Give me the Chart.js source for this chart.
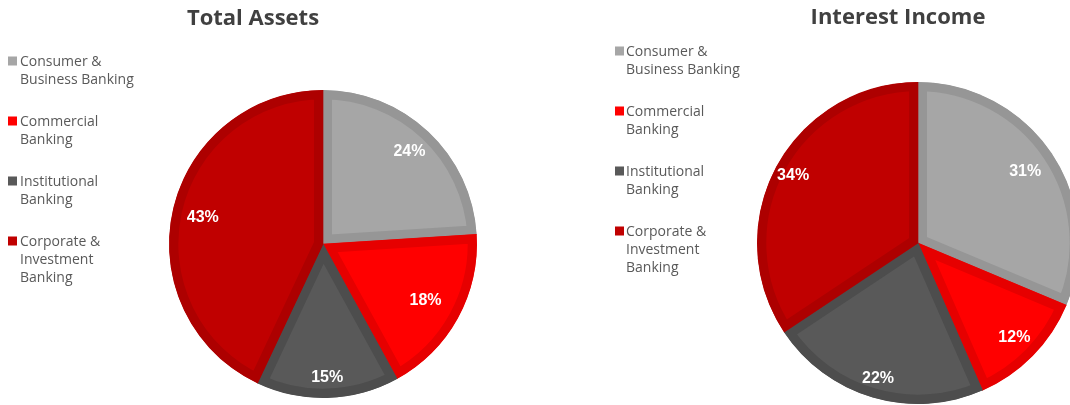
<!DOCTYPE html>
<html>
<head>
<meta charset="utf-8">
<script src="https://cdn.jsdelivr.net/npm/chart.js@4/dist/chart.umd.min.js"></script>
<style>
  html, body { margin: 0; padding: 0; background: #ffffff; overflow: hidden; }
  #wrap { position: relative; width: 1070px; height: 405px; overflow: hidden; }
  canvas { position: absolute; top: 0; }
  #assets { left: 0; }
  #income { left: 535px; }
</style>
</head>
<body>
<div id="wrap">
  <canvas id="assets" width="535" height="405"></canvas>
  <canvas id="income" width="575" height="405"></canvas>
</div>
<script>
// Business segments (legend labels split into display lines)
const segmentLabels = [
  ['Consumer &', 'Business Banking'],
  ['Commercial', 'Banking'],
  ['Institutional', 'Banking'],
  ['Corporate &', 'Investment', 'Banking']
];

// Share of each segment, in percent
const totalAssets = [24, 18, 15, 43];
const interestIncome = [31, 12, 22, 34];

const chartTitles = ['Total Assets', 'Interest Income'];

// Segment fills and their slightly darker edges
const sliceColors = ['#a6a6a6', '#ff0000', '#595959', '#c00000'];
const edgeColors = ['#969696', '#e60000', '#4d4d4d', '#ad0000'];

const LEGEND_FONT = '14px "Open Sans", "Lato", sans-serif';
const LEGEND_COLOR = '#595959';

// Title above the pie
const titlePlugin = {
  id: 'segTitle',
  afterDraw(chart, args, opts) {
    const ctx = chart.ctx;
    ctx.save();
    ctx.font = 'bold 22px "Open Sans", "Liberation Sans", sans-serif';
    ctx.fillStyle = '#404040';
    ctx.textAlign = 'center';
    ctx.textBaseline = 'middle';
    ctx.fillText(opts.text, opts.x, opts.y);
    ctx.restore();
  }
};

// Stacked legend with multi-line labels on the left
const sideLegend = {
  id: 'sideLegend',
  afterDraw(chart, args, opts) {
    const ctx = chart.ctx;
    const labels = chart.data.labels;
    const colors = chart.data.datasets[0].backgroundColor;
    ctx.save();
    ctx.font = LEGEND_FONT;
    ctx.textBaseline = 'middle';
    ctx.textAlign = 'left';
    labels.forEach((lines, i) => {
      const y0 = opts.top + i * opts.itemGap;
      ctx.fillStyle = colors[i];
      ctx.fillRect(opts.boxX, y0 - 4.5, 9, 9);
      ctx.fillStyle = LEGEND_COLOR;
      lines.forEach((line, j) => {
        ctx.fillText(line, opts.textX, y0 + 1 + j * opts.lineHeight);
      });
    });
    ctx.restore();
  }
};

// Percentage labels inside each slice
const sliceLabels = {
  id: 'sliceLabels',
  afterDatasetsDraw(chart, args, opts) {
    const ctx = chart.ctx;
    const meta = chart.getDatasetMeta(0);
    const values = chart.data.datasets[0].data;
    ctx.save();
    ctx.font = 'bold 16px "Liberation Sans", Arial, sans-serif';
    ctx.fillStyle = '#ffffff';
    ctx.textAlign = 'center';
    ctx.textBaseline = 'middle';
    meta.data.forEach((arc, i) => {
      const p = arc.getProps(['x', 'y', 'startAngle', 'endAngle', 'outerRadius'], true);
      const mid = (p.startAngle + p.endAngle) / 2;
      const r = p.outerRadius * opts.ratios[i];
      ctx.fillText(values[i] + '%', p.x + Math.cos(mid) * r, p.y + Math.sin(mid) * r);
    });
    ctx.restore();
  }
};

function makePie(canvasId, values, cfg) {
  return new Chart(document.getElementById(canvasId), {
    type: 'pie',
    data: {
      labels: segmentLabels,
      datasets: [{
        data: values,
        backgroundColor: sliceColors,
        borderColor: edgeColors,
        borderWidth: 9,
        borderAlign: 'inner',
        hoverOffset: 0,
        clip: false
      }]
    },
    options: {
      responsive: false,
      animation: false,
      events: [],
      radius: cfg.radius,
      layout: { padding: cfg.padding },
      plugins: {
        legend: { display: false },
        tooltip: { enabled: false },
        title: { display: false },
        segTitle: cfg.title,
        sideLegend: cfg.legend,
        sliceLabels: { ratios: cfg.labelRatios }
      }
    },
    plugins: [titlePlugin, sideLegend, sliceLabels]
  });
}

makePie('assets', totalAssets, {
  radius: 154,
  padding: { left: 169, right: 58, top: 90, bottom: 7 },
  title: { text: chartTitles[0], x: 253, y: 19 },
  legend: { boxX: 8, textX: 20, top: 61, itemGap: 60, lineHeight: 18 },
  labelRatios: [0.82, 0.76, 0.87, 0.80]
});

makePie('income', interestIncome, {
  radius: 161,
  padding: { left: 222, right: 31, top: 82, bottom: 1 },
  title: { text: chartTitles[1], x: 363, y: 18 },
  legend: { boxX: 80, textX: 91, top: 51, itemGap: 60, lineHeight: 18 },
  labelRatios: [0.80, 0.84, 0.88, 0.88]
});
</script>
</body>
</html>
